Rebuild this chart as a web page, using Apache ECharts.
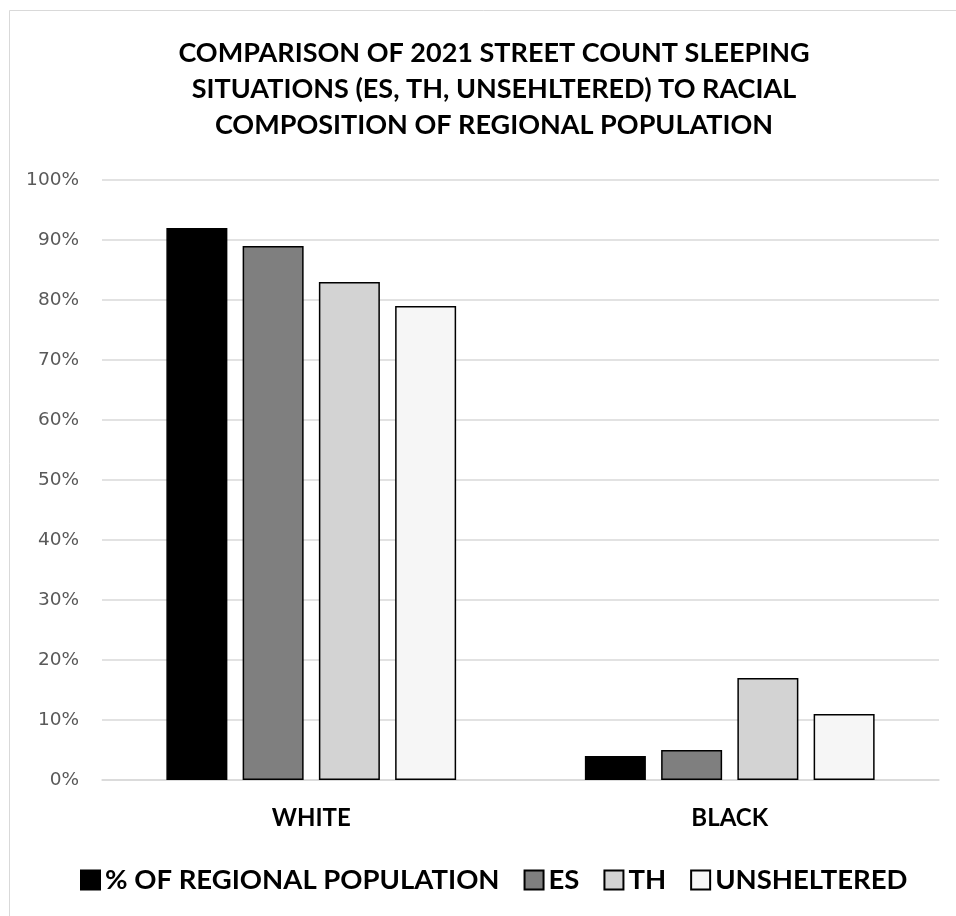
<!DOCTYPE html>
<html>
<head>
<meta charset="utf-8">
<script src="https://cdn.jsdelivr.net/npm/echarts@6/dist/echarts.min.js"></script>
<style>
  html, body { margin: 0; padding: 0; background: #fff; }
  #chart { width: 956px; height: 916px; }
</style>
</head>
<body>
<div id="chart"></div>
<script>
// Racial groups on the category axis
const categories = ['WHITE', 'BLACK'];

// Share of each group (percent)
const regionalPopulation = [92, 4];
const emergencyShelter = [89, 5];
const transitionalHousing = [83, 17];
const unsheltered = [79, 11];

// Value axis ticks
const yTicks = [0, 10, 20, 30, 40, 50, 60, 70, 80, 90, 100];

const seriesNames = ['% OF REGIONAL POPULATION', 'ES', 'TH', 'UNSHELTERED'];
const seriesData = [regionalPopulation, emergencyShelter, transitionalHousing, unsheltered];
const fills = ['#000000', '#7f7f7f', '#d3d3d3', '#f6f6f6'];

const boldFont = 'Lato, "Open Sans", "DejaVu Sans", sans-serif';
const tickFont = '"DejaVu Sans", sans-serif';

const chart = echarts.init(document.getElementById('chart'), null, { renderer: 'canvas' });

chart.setOption({
  animation: false,
  backgroundColor: '#ffffff',
  title: {
    text: 'COMPARISON OF 2021 STREET COUNT SLEEPING\nSITUATIONS (ES, TH, UNSEHLTERED) TO RACIAL\nCOMPOSITION OF REGIONAL POPULATION',
    left: 489,
    top: 30,
    textAlign: 'center',
    textStyle: {
      fontFamily: boldFont,
      fontWeight: 'bold',
      fontSize: 27,
      lineHeight: 36,
      color: '#000'
    }
  },
  graphic: [{
    type: 'rect',
    shape: { x: 9.5, y: 10.5, width: 1000, height: 1000 },
    style: { fill: 'none', stroke: '#d9d9d9', lineWidth: 1 },
    silent: true,
    z: -1
  }],
  legend: {
    data: seriesNames,
    top: 866,
    left: 80,
    padding: 0,
    itemWidth: 19,
    itemHeight: 19,
    itemGap: 24,
    icon: 'rect',
    textStyle: {
      fontFamily: boldFont,
      fontWeight: 'bold',
      fontSize: 27.5,
      color: '#000'
    }
  },
  grid: {
    left: 102,
    right: 17,
    top: 180,
    bottom: 136,
    containLabel: false
  },
  xAxis: {
    type: 'category',
    data: categories,
    axisLine: { lineStyle: { color: '#d9d9d9', width: 1.5 } },
    axisTick: { show: false },
    axisLabel: {
      margin: 26,
      fontFamily: boldFont,
      fontWeight: 'bold',
      fontSize: 24,
      color: '#000'
    }
  },
  yAxis: {
    type: 'value',
    min: yTicks[0],
    max: yTicks[yTicks.length - 1],
    interval: 10,
    axisLine: { show: false },
    axisTick: { show: false },
    splitLine: { lineStyle: { color: '#d9d9d9', width: 1.5 } },
    axisLabel: {
      margin: 23,
      fontFamily: tickFont,
      fontSize: 18.5,
      color: '#595959',
      formatter: v => v + '%'
    }
  },
  series: seriesNames.map((name, i) => ({
    name,
    type: 'bar',
    data: seriesData[i],
    barWidth: 61,
    barGap: '25%',
    itemStyle: {
      color: fills[i],
      borderColor: '#000',
      borderWidth: 1.5
    }
  }))
});
</script>
</body>
</html>
